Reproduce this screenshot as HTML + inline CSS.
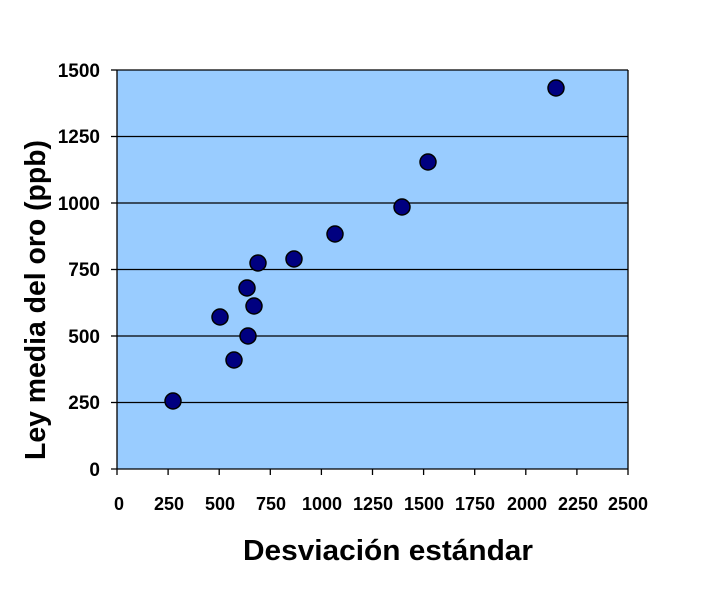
<!DOCTYPE html>
<html><head><meta charset="utf-8"><style>body{margin:0;background:#fff}</style></head><body>
<svg width="726" height="595" xmlns="http://www.w3.org/2000/svg" font-family="Liberation Sans, Arial, sans-serif" font-weight="bold">
<rect x="117" y="70" width="511" height="399" fill="#99ccff"/>
<g stroke="#000" stroke-width="1.3">
<line x1="117" y1="70" x2="628" y2="70"/>
<line x1="117" y1="136.5" x2="628" y2="136.5"/>
<line x1="117" y1="203" x2="628" y2="203"/>
<line x1="117" y1="269.5" x2="628" y2="269.5"/>
<line x1="117" y1="336" x2="628" y2="336"/>
<line x1="117" y1="402.5" x2="628" y2="402.5"/>
<line x1="117" y1="70" x2="117" y2="469"/>
<line x1="628" y1="70" x2="628" y2="469"/>
<line x1="111" y1="469" x2="628" y2="469"/>
<line x1="111" y1="70" x2="117" y2="70"/><line x1="111" y1="136.5" x2="117" y2="136.5"/><line x1="111" y1="203" x2="117" y2="203"/><line x1="111" y1="269.5" x2="117" y2="269.5"/><line x1="111" y1="336" x2="117" y2="336"/><line x1="111" y1="402.5" x2="117" y2="402.5"/>
<line x1="117" y1="469" x2="117" y2="475"/><line x1="168.1" y1="469" x2="168.1" y2="475"/><line x1="219.2" y1="469" x2="219.2" y2="475"/><line x1="270.3" y1="469" x2="270.3" y2="475"/><line x1="321.4" y1="469" x2="321.4" y2="475"/><line x1="372.5" y1="469" x2="372.5" y2="475"/><line x1="423.6" y1="469" x2="423.6" y2="475"/><line x1="474.7" y1="469" x2="474.7" y2="475"/><line x1="525.8" y1="469" x2="525.8" y2="475"/><line x1="576.9" y1="469" x2="576.9" y2="475"/><line x1="628" y1="469" x2="628" y2="475"/>
</g>
<g font-size="19" text-anchor="end">
<text x="100" y="77">1500</text><text x="100" y="143">1250</text><text x="100" y="210">1000</text><text x="100" y="276">750</text><text x="100" y="343">500</text><text x="100" y="409">250</text><text x="100" y="476">0</text>
</g>
<g font-size="18" text-anchor="middle">
<text x="119" y="510">0</text><text x="169" y="510">250</text><text x="220" y="510">500</text><text x="271" y="510">750</text><text x="322" y="510">1000</text><text x="373" y="510">1250</text><text x="424" y="510">1500</text><text x="475" y="510">1750</text><text x="527" y="510">2000</text><text x="578" y="510">2250</text><text x="628" y="510">2500</text>
</g>
<text x="243" y="560" font-size="29" textLength="290" lengthAdjust="spacingAndGlyphs">Desviación estándar</text>
<text transform="translate(45,460) rotate(-90)" font-size="29" textLength="320" lengthAdjust="spacingAndGlyphs">Ley media del oro (ppb)</text>
<g fill="#000080" stroke="#000" stroke-width="1.5">
<circle cx="173" cy="401" r="8"/><circle cx="220" cy="317" r="8"/><circle cx="234" cy="360" r="8"/><circle cx="247" cy="288" r="8"/><circle cx="248" cy="336" r="8"/><circle cx="254" cy="306" r="8"/><circle cx="258" cy="263" r="8"/><circle cx="294" cy="259" r="8"/><circle cx="335" cy="234" r="8"/><circle cx="402" cy="207" r="8"/><circle cx="428" cy="162" r="8"/><circle cx="556" cy="88" r="8"/>
</g>
</svg>
</body></html>
